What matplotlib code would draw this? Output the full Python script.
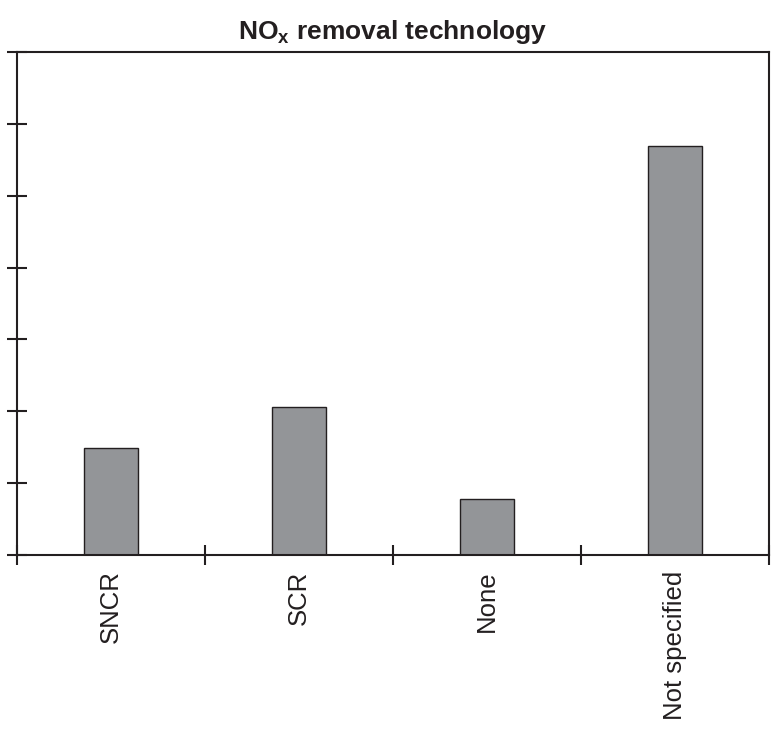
import matplotlib.pyplot as plt
import numpy as np

plt.rcParams['font.family'] = ['Liberation Sans', 'DejaVu Sans']
plt.rcParams['mathtext.fontset'] = 'custom'
plt.rcParams['mathtext.rm'] = 'Liberation Sans'
plt.rcParams['mathtext.bf'] = 'Liberation Sans:bold'

# data
categories = ['SNCR', 'SCR', 'None', 'Not specified']
values = [1.49, 2.06, 0.78, 5.69]

dark = '#231f20'
bar_color = '#939598'

fig = plt.figure(figsize=(7.76, 7.30), dpi=100)
ax = fig.add_axes([0.0219, 0.2397, 0.9691, 0.6891])

x = np.arange(len(categories))
ax.bar(x, values, width=0.29, color=bar_color, edgecolor=dark, linewidth=1.0)

ax.set_xlim(-0.5, len(categories) - 0.5)
ax.set_ylim(0, 7)

# major ticks on category boundaries, labels on minor ticks
ax.set_xticks(np.arange(len(categories) + 1) - 0.5)
ax.set_xticklabels([])
ax.set_xticks(x, minor=True)
ax.set_xticklabels(categories, minor=True, rotation=90, fontsize=18.5, color=dark)
ax.tick_params(axis='x', which='minor', length=0, pad=11)

ax.set_yticks(np.arange(0, 8))
ax.set_yticklabels([])

ax.tick_params(which='major', direction='inout', length=14, width=1.5, color=dark)

for s in ax.spines.values():
    s.set_color(dark)
    s.set_linewidth(1.5)

ax.set_title(r'NO$_\mathbf{x}$ removal technology', fontsize=19, fontweight='bold',
             color=dark, pad=9)

fig.savefig('out.png', dpi=100)
